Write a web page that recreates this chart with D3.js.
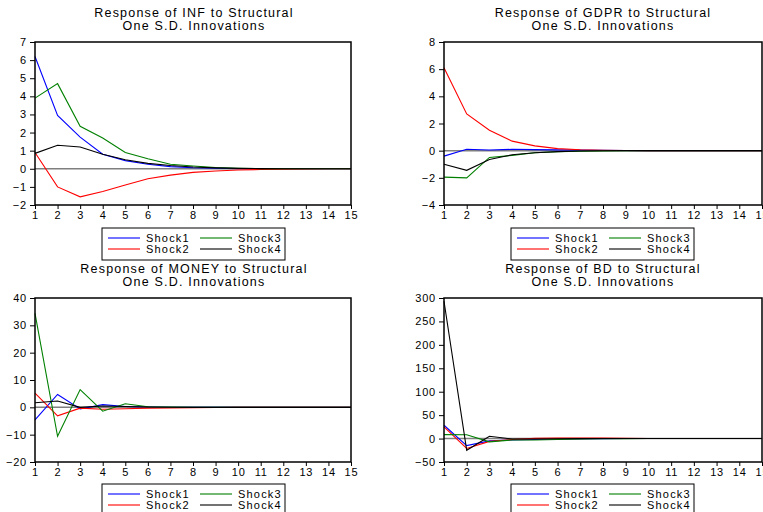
<!DOCTYPE html>
<html>
<head>
<meta charset="utf-8">
<script src="https://cdn.jsdelivr.net/npm/d3@7"></script>
<style>
  body { margin: 0; background: #fff; }
  svg text { font-family: "Liberation Sans", Arial, sans-serif; fill: #000; }
</style>
</head>
<body>
<script>
// periods on the x axis
var periods = [1,2,3,4,5,6,7,8,9,10,11,12,13,14,15];
var shockNames = ["Shock1", "Shock2", "Shock3", "Shock4"];
var shockColors = ["#0000ff", "#ff0000", "#008000", "#000000"];

// Response of INF
var infShock1 = [6.2, 2.95, 1.75, 0.8, 0.45, 0.25, 0.12, 0.06, 0.03, 0.01, 0, 0, 0, 0, 0];
var infShock2 = [0.9, -1.0, -1.55, -1.25, -0.9, -0.55, -0.35, -0.2, -0.12, -0.07, -0.04, -0.02, -0.01, 0, 0];
var infShock3 = [3.9, 4.7, 2.35, 1.7, 0.9, 0.55, 0.25, 0.15, 0.07, 0.03, 0.01, 0, 0, 0, 0];
var infShock4 = [0.85, 1.3, 1.2, 0.8, 0.5, 0.3, 0.18, 0.1, 0.05, 0.02, 0.01, 0, 0, 0, 0];
var infTicks = [-2, -1, 0, 1, 2, 3, 4, 5, 6, 7];

// Response of GDPR
var gdprShock1 = [-0.4, 0.1, 0.05, 0.1, 0.08, 0.06, 0.04, 0.02, 0.01, 0, 0, 0, 0, 0, 0];
var gdprShock2 = [6.1, 2.7, 1.5, 0.7, 0.35, 0.15, 0.07, 0.03, 0.01, 0, 0, 0, 0, 0, 0];
var gdprShock3 = [-1.95, -2.0, -0.5, -0.35, -0.15, -0.08, -0.04, -0.02, -0.01, 0, 0, 0, 0, 0, 0];
var gdprShock4 = [-1.0, -1.45, -0.65, -0.3, -0.15, -0.07, -0.03, -0.01, 0, 0, 0, 0, 0, 0, 0];
var gdprTicks = [-4, -2, 0, 2, 4, 6, 8];

// Response of MONEY
var moneyShock1 = [-4.6, 4.7, -0.6, 1.0, 0.3, 0.1, 0.05, 0, 0, 0, 0, 0, 0, 0, 0];
var moneyShock2 = [5.2, -3.1, -0.3, -0.7, -0.5, -0.3, -0.2, -0.1, -0.05, 0, 0, 0, 0, 0, 0];
var moneyShock3 = [34.4, -10.6, 6.5, -1.4, 1.3, 0.2, 0.1, 0.05, 0, 0, 0, 0, 0, 0, 0];
var moneyShock4 = [1.7, 2.3, 0, 0.5, 0.3, 0.1, 0.05, 0, 0, 0, 0, 0, 0, 0, 0];
var moneyTicks = [-20, -10, 0, 10, 20, 30, 40];

// Response of BD
var bdShock1 = [28.5, -15, -5, -3, -2, -1, -0.5, -0.2, 0, 0, 0, 0, 0, 0, 0];
var bdShock2 = [25, -21, -6, -2, 0.5, 1, 1, 1, 0.5, 0.2, 0, 0, 0, 0, 0];
var bdShock3 = [8.5, 8, -7, -3, -3, -2, -1, -0.5, -0.2, 0, 0, 0, 0, 0, 0];
var bdShock4 = [293, -25, 5, -1, -1, -0.5, -0.2, 0, 0, 0, 0, 0, 0, 0, 0];
var bdTicks = [-50, 0, 50, 100, 150, 200, 250, 300];

var panels = [
  {name: "INF", series: [infShock1, infShock2, infShock3, infShock4], ticks: infTicks,
   x0: 35, x1: 351, y0: 42, y1: 205, ty: 17, ly: 228},
  {name: "GDPR", series: [gdprShock1, gdprShock2, gdprShock3, gdprShock4], ticks: gdprTicks,
   x0: 444, x1: 762, y0: 42, y1: 205, ty: 17, ly: 228},
  {name: "MONEY", series: [moneyShock1, moneyShock2, moneyShock3, moneyShock4], ticks: moneyTicks,
   x0: 35, x1: 351, y0: 298, y1: 462, ty: 273, ly: 484},
  {name: "BD", series: [bdShock1, bdShock2, bdShock3, bdShock4], ticks: bdTicks,
   x0: 444, x1: 762, y0: 298, y1: 462, ty: 273, ly: 484}
];

var svg = d3.select("body").append("svg")
    .attr("width", 763)
    .attr("height", 512);

panels.forEach(function(p){
  var g = svg.append("g");

  var xScale = d3.scaleLinear()
      .domain([1, 15])
      .range([p.x0, p.x1]);
  var yScale = d3.scaleLinear()
      .domain([d3.min(p.ticks), d3.max(p.ticks)])
      .range([p.y1, p.y0]);

  var cx = (p.x0 + p.x1) / 2;
  var titleX = p.x0 < 100 ? 194 : 603;

  // title
  g.append("text")
      .attr("x", titleX).attr("y", p.ty)
      .attr("text-anchor", "middle")
      .style("font-size", "12.5px")
      .style("letter-spacing", "1.2px")
      .text("Response of " + p.name + " to Structural");
  g.append("text")
      .attr("x", titleX).attr("y", p.ty + 12.5)
      .attr("text-anchor", "middle")
      .style("font-size", "12.5px")
      .style("letter-spacing", "1.2px")
      .text("One S.D. Innovations");

  // y axis
  var yAxis = d3.axisLeft(yScale)
      .tickValues(p.ticks)
      .tickSize(5)
      .tickPadding(3)
      .tickFormat(d3.format("d"));
  var yG = g.append("g")
      .attr("transform", "translate(" + p.x0 + ",0)");
  yAxis(yG);
  yG.select(".domain").remove();
  yG.selectAll("line").style("stroke", "#000");
  yG.selectAll("text")
      .style("font-size", "11px")
      .style("letter-spacing", "0.8px")
      .style("font-family", "Liberation Sans, Arial, sans-serif");

  // x axis
  var xAxis = d3.axisBottom(xScale)
      .tickValues(periods)
      .tickSize(4)
      .tickPadding(2)
      .tickFormat(d3.format("d"));
  var xG = g.append("g")
      .attr("transform", "translate(0," + p.y1 + ")");
  xAxis(xG);
  xG.select(".domain").remove();
  xG.selectAll("line").style("stroke", "#000");
  xG.selectAll("text")
      .style("font-size", "11px")
      .style("letter-spacing", "0.8px")
      .style("font-family", "Liberation Sans, Arial, sans-serif");

  // zero line
  g.append("line")
      .attr("x1", p.x0).attr("x2", p.x1)
      .attr("y1", yScale(0)).attr("y2", yScale(0))
      .style("stroke", "#7f7f7f")
      .style("stroke-width", 1.5);

  var line = d3.line()
      .x(function(d, i){ return xScale(periods[i]); })
      .y(function(d){ return yScale(d); });

  p.series.forEach(function(s, i){
    g.append("path")
        .datum(s)
        .attr("d", line)
        .style("fill", "none")
        .style("stroke", shockColors[i])
        .style("stroke-width", 1.1);
  });

  // frame
  g.append("rect")
      .attr("x", p.x0).attr("y", p.y0)
      .attr("width", p.x1 - p.x0).attr("height", p.y1 - p.y0)
      .style("fill", "none")
      .style("stroke", "#000")
      .style("stroke-width", 1.5);

  // legend
  var lx = titleX - 92;
  var leg = g.append("g").attr("transform", "translate(" + lx + "," + p.ly + ")");
  leg.append("rect")
      .attr("width", 183).attr("height", 32)
      .style("fill", "#fff")
      .style("stroke", "#000")
      .style("stroke-width", 1);
  shockNames.forEach(function(n, i){
    var col = Math.floor(i / 2), row = i % 2;
    var sx = 6 + col * 92, sy = 10 + row * 11;
    leg.append("line")
        .attr("x1", sx).attr("x2", sx + 32)
        .attr("y1", sy).attr("y2", sy)
        .style("stroke", shockColors[i])
        .style("stroke-width", 1.1);
    leg.append("text")
        .attr("x", sx + 38).attr("y", sy + 4)
        .style("font-size", "11px")
        .style("letter-spacing", "1.2px")
        .text(n);
  });
});
</script>
</body>
</html>
